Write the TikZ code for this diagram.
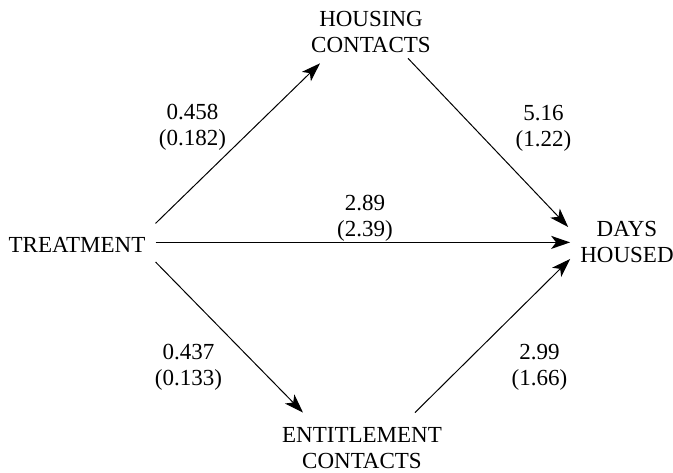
\documentclass[tikz,border=0pt]{standalone}
\usepackage{fontspec}
\setmainfont{Liberation Serif}
\usetikzlibrary{arrows.meta}
\tikzset{
  var/.style={align=center,inner sep=10pt,font=\fontsize{23}{26}\selectfont},
  coef/.style={align=center,inner sep=0pt,font=\fontsize{23}{26}\selectfont},
  path/.style={line width=1pt,-{Stealth[length=19pt,width=13pt,inset=5pt]}}
}
\begin{document}
\begin{tikzpicture}[x=1pt,y=1pt]
\useasboundingbox (0,0) rectangle (673,473);
\node[var] (tr) at (77,227.6) {TREATMENT};
\node[var] (hc) at (371,440.6) {HOUSING\\CONTACTS};
\node[var] (dh) at (627,230.6) {DAYS\\HOUSED};
\node[var] (ec) at (362,24.6) {ENTITLEMENT\\CONTACTS};
\draw[path] ([yshift=22pt]tr.east) -- ([xshift=-51pt]hc.south);
\draw[path] ([shift={(37pt,5pt)}]hc.south) -- ([shift={(-2pt,15.4pt)}]dh.west);
\draw[path,line width=1.4pt] (tr.east |- dh.west) -- (dh.west);
\draw[path] ([yshift=-16.6pt]tr.east) -- ([shift={(-59pt,5pt)}]ec.north);
\draw[path] ([shift={(53pt,5pt)}]ec.north) -- ([yshift=-16.6pt]dh.west);
\node[coef] (b1) at (192.5,346) {0.458\\(0.182)};
\node[coef] (b2) at (543.5,345) {5.16\\(1.22)};
\node[coef] (b3) at (365,255) {2.89\\(2.39)};
\node[coef] (b4) at (188.5,106) {0.437\\(0.133)};
\node[coef] (b5) at (539.5,106) {2.99\\(1.66)};
\end{tikzpicture}
\end{document}
